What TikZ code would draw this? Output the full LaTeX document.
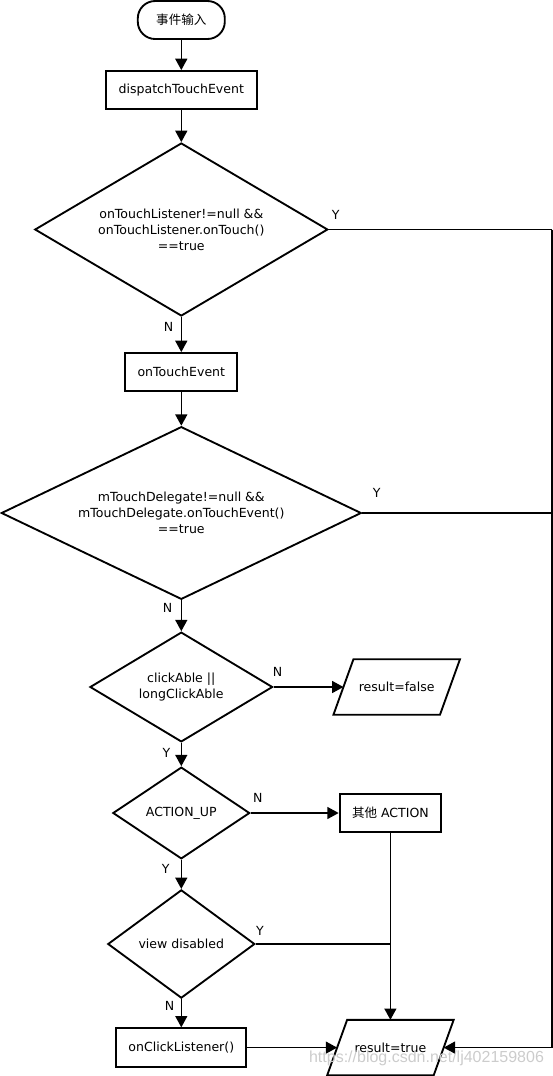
\documentclass[tikz,border=0pt]{standalone}
\usepackage{fontspec}
\setmainfont{DejaVu Sans}
\newfontfamily\cjk{Noto Sans CJK SC}
\newfontfamily\wmfont{Liberation Sans}
\usetikzlibrary{shapes.geometric,arrows.meta}
\begin{document}
\begin{tikzpicture}[x=0.75pt,y=-0.75pt,
  every node/.style={font=\fontsize{9.4}{12}\selectfont},
  boxline/.style={draw, line width=1.4pt},
  proc/.style={boxline, rectangle, minimum height=28.5pt, inner sep=0pt},
  dec/.style={boxline, diamond, inner sep=0pt, align=center},
  para/.style={rectangle, minimum width=79.5pt, minimum height=41.25pt, inner sep=0pt},
  conn/.style={line width=1.1pt},
  arr/.style={conn, -{Triangle[length=8.5pt,width=9pt]}},
  lbl/.style={inner sep=0pt}]
\useasboundingbox (0,0) rectangle (553,1076);

\node[proc, rounded corners=13pt, minimum width=65.25pt] (start) at (181.3,20) {\cjk 事件输入};
\node[proc, minimum width=113.25pt] (disp) at (181.3,90) {dispatchTouchEvent};
\node[dec, minimum width=219.75pt, minimum height=129.75pt, shape aspect=1.69] (d1) at (181.3,229.5) {onTouchListener!=null \&\&\\onTouchListener.onTouch()\\==true};
\node[proc, minimum width=84pt] (ote) at (181.3,372) {onTouchEvent};
\node[dec, minimum width=270pt, minimum height=129.5pt, shape aspect=2.08] (d2) at (181.3,513) {mTouchDelegate!=null \&\&\\mTouchDelegate.onTouchEvent()\\==true};
\node[dec, minimum width=137pt, minimum height=82.3pt, shape aspect=1.66] (d3) at (181.3,687) {clickAble ||\\longClickAble};
\node[para] (rf) at (396.7,687) {result=false};
\node[dec, minimum width=102.6pt, minimum height=68.8pt, shape aspect=1.49] (d4) at (181.3,813) {ACTION\_UP};
\node[proc, minimum width=76.2pt, minimum height=29pt] (other) at (390.4,813) {{\cjk 其他} ACTION};
\node[dec, minimum width=110.25pt, minimum height=81.2pt, shape aspect=1.36] (d5) at (181.3,944) {view disabled};
\node[proc, minimum width=97.6pt, minimum height=29pt] (click) at (181.3,1047.6) {onClickListener()};
\node[para] (rt) at (390.4,1047.6) {result=true};

\foreach \n in {rf,rt}
  \draw[boxline] ([xshift=-7.5pt]\n.south west) -- ([xshift=7.5pt]\n.north west)
     -- ([xshift=7.5pt]\n.north east) -- ([xshift=-7.5pt]\n.south east) -- cycle;

\coordinate (rbar) at (552,0);
\coordinate (j) at (other.south |- d5.east);

\draw[arr] (start) -- (disp);
\draw[arr] (disp) -- (d1);
\draw[arr] (d1) -- (ote);
\draw[arr] (ote) -- (d2);
\draw[arr] (d2) -- (d3);
\draw[arr] (d3) -- (rf);
\draw[arr] (d3) -- (d4);
\draw[arr] (d4) -- (other);
\draw[arr] (d4) -- (d5);
\draw[arr] (d5) -- (click);
\draw[arr] (click) -- (rt);
\draw[arr] (other) -- (rt);
\draw[conn] (d5.east) -- (j);
\draw[conn] (d1.east) -- (d1.east -| rbar);
\draw[conn] (d2.east) -- (d2.east -| rbar);
\draw[arr] (d1.east -| rbar) |- (rt.east);

\node[lbl] (y1) at (335.7,215) {Y};
\node[lbl] (n1) at (168.6,327) {N};
\node[lbl] (y2) at (376.6,493.3) {Y};
\node[lbl] (n2) at (167.5,608.3) {N};
\node[lbl] (n3) at (277.5,672.3) {N};
\node[lbl] (y3) at (166.5,753.3) {Y};
\node[lbl] (n4) at (257.8,797.7) {N};
\node[lbl] (y4) at (165.8,869) {Y};
\node[lbl] (y5) at (260,931) {Y};
\node[lbl] (n5) at (169.6,1005.7) {N};

\node[font=\wmfont\fontsize{12}{14}\selectfont, text=black!20, inner sep=0pt] (wm) at (426.5,1058) {https://blog.csdn.net/lj402159806};
\end{tikzpicture}
\end{document}
